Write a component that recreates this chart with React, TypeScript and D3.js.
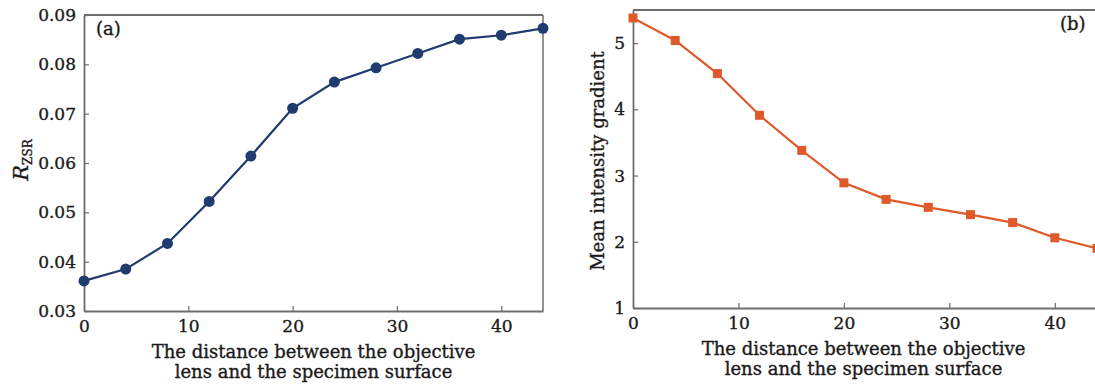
import React, { useEffect, useRef } from 'react'
import * as d3 from 'd3'

// distance between objective lens and specimen surface
const distance = [0, 4, 8, 12, 16, 20, 24, 28, 32, 36, 40, 44]
// (a) R_ZSR
const rzsr = [0.0361, 0.0385, 0.0437, 0.0522, 0.0614, 0.0711, 0.0764, 0.0793, 0.0822, 0.0851, 0.0859, 0.0873]
// (b) mean intensity gradient
const gradient = [5.38, 5.04, 4.54, 3.91, 3.38, 2.89, 2.64, 2.52, 2.41, 2.29, 2.06, 1.9]

const xTicks = [0, 10, 20, 30, 40]
const yTicksA = [0.03, 0.04, 0.05, 0.06, 0.07, 0.08, 0.09]
const yTicksB = [1, 2, 3, 4, 5]

const FONT = 'DejaVu Serif, serif'
const AXIS = '#6e6e6e'
const INK = '#1a1a1a'

const App = () => {
  const svgRef = useRef<SVGSVGElement>(null)

  useEffect(() => {
    const svg = d3.select(svgRef.current)
    svg.selectAll('*').remove()

    // slightly heavier text, closer to the printed serif
    const ink = (t: any, size: number) => t.attr('font-family', FONT).attr('font-size', size)
      .attr('fill', INK).attr('stroke', INK).attr('stroke-width', 0.35)

    const drawPanel = (opts: any) => {
      const { left, right, top, bottom, yDomain, yTicks, ys, color, marker, fmt, tag, tagX } = opts
      const g = svg.append('g')
      const x = d3.scaleLinear().domain([0, 44]).range([left, right])
      const y = d3.scaleLinear().domain(yDomain).range([bottom, top])

      // frame
      g.append('line').attr('x1', left).attr('x2', right).attr('y1', top).attr('y2', top)
        .attr('stroke', AXIS).attr('stroke-width', 2)
      g.append('line').attr('x1', right).attr('x2', right).attr('y1', top).attr('y2', bottom)
        .attr('stroke', AXIS).attr('stroke-width', 1.5)

      const xAxis = d3.axisBottom(x).tickValues(xTicks).tickSizeInner(-5).tickSizeOuter(0).tickPadding(9)
      const gx = g.append('g').attr('transform', `translate(0,${bottom})`).call(xAxis)
      const yAxis = d3.axisLeft(y).tickValues(yTicks).tickFormat(fmt).tickSizeInner(-5).tickSizeOuter(0).tickPadding(8)
      const gy = g.append('g').attr('transform', `translate(${left},0)`).call(yAxis)
      ;[gx, gy].forEach(a => {
        a.select('.domain').attr('stroke', AXIS).attr('stroke-width', 1.8)
        a.selectAll('.tick line').attr('stroke', AXIS).attr('stroke-width', 1.2)
        ink(a.selectAll('text'), 17)
      })

      const line = d3.line<number>().x((d, i) => x(distance[i])).y(d => y(d))
      g.append('path').datum(ys).attr('d', line).attr('fill', 'none')
        .attr('stroke', color).attr('stroke-width', 2.2)

      if (marker === 'circle') {
        g.selectAll('.pt').data(ys).join('circle')
          .attr('cx', (d, i) => x(distance[i])).attr('cy', d => y(d)).attr('r', 5.5).attr('fill', color)
      } else {
        g.selectAll('.pt').data(ys).join('rect')
          .attr('x', (d, i) => x(distance[i]) - 4.5).attr('y', d => y(d) - 4.5)
          .attr('width', 9).attr('height', 9).attr('fill', color)
      }

      ink(g.append('text').attr('x', tagX).attr('y', top + 20), 18).text(tag)

      const cx = (left + Math.min(right, 1094)) / 2
      const title = ink(g.append('text'), 18).attr('text-anchor', 'middle')
      title.append('tspan').attr('x', cx).attr('y', bottom + 47).text('The distance between the objective')
      title.append('tspan').attr('x', cx).attr('y', bottom + 67).text('lens and the specimen surface')
      return g
    }

    const ga = drawPanel({
      left: 84, right: 543, top: 15, bottom: 311,
      yDomain: [0.03, 0.09], yTicks: yTicksA, ys: rzsr, color: '#1f3b70', marker: 'circle',
      fmt: d3.format('.2f'), tag: '(a)', tagX: 96
    })
    const yl = ink(ga.append('text').attr('transform', 'translate(28,160) rotate(-90)'), 21)
      .attr('text-anchor', 'middle')
    yl.append('tspan').attr('font-style', 'italic').text('R')
    yl.append('tspan').attr('font-size', 12).attr('dy', 4).text('ZSR')

    const gb = drawPanel({
      left: 633, right: 1097, top: 10, bottom: 308,
      yDomain: [1, 5.5], yTicks: yTicksB, ys: gradient, color: '#e0592a', marker: 'square',
      fmt: d3.format('d'), tag: '(b)', tagX: 1060
    })
    ink(gb.append('text').attr('transform', 'translate(604,161) rotate(-90)'), 18)
      .attr('text-anchor', 'middle').text('Mean intensity gradient')
  }, [])

  return (
    <svg ref={svgRef} width={1095} height={386}
      style={{ position: 'absolute', left: 0, top: 0, background: '#fff' }} />
  )
}

export default App
